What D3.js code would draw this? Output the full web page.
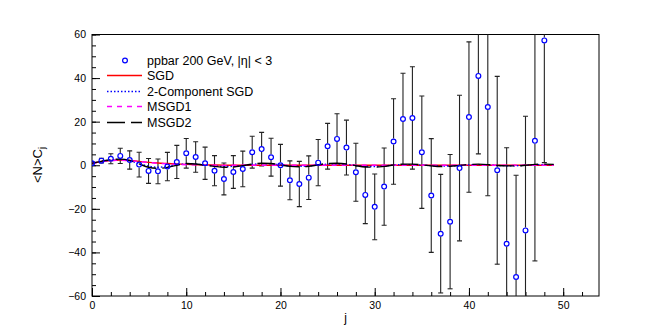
<!DOCTYPE html>
<html>
<head>
<meta charset="utf-8">
<script src="https://cdn.jsdelivr.net/npm/d3@7"></script>
<style>
  body { margin: 0; background: #fff; }
  text { font-family: "Liberation Sans", Arial, sans-serif; }
</style>
</head>
<body>
<div id="chart"></div>
<script>
// ******************************** DATA ***************************************
// j bins of the measured points
var jBins = d3.range(0, 49);

// <N>C_j measured values (ppbar 200 GeV, |eta| < 3)
var ncValues = [0.9, 2.1, 3.0, 4.3, 2.4, 0.3, -2.6, -2.8, -0.6, 1.5,
  5.5, 3.8, 0.9, -2.5, -6.3, -3.1, -1.7, 6.0, 7.4, 3.7,
  0.0, -6.9, -8.6, -5.7, 1.2, 8.7, 12.1, 8.1, -3.2, -13.6,
  -19.1, -9.8, 10.9, 21.2, 21.7, 6.0, -13.9, -31.4, -25.9, -1.3,
  22.1, 41.0, 26.7, -2.3, -36.0, -51.3, -29.9, 11.2, 57.3];

// symmetric errors on the points
var ncErrors = [0.8, 1.1, 2.3, 3.5, 4.2, 5.7, 5.7, 5.7, 6.5, 7.6,
  6.8, 7.0, 7.4, 6.9, 7.3, 7.5, 8.2, 7.3, 7.7, 8.7,
  9.6, 8.9, 10.4, 10.0, 10.6, 10.5, 11.5, 12.6, 13.3, 13.2,
  15.1, 17.7, 19.6, 21.0, 23.5, 25.8, 26.1, 27.2, 30.8, 33.4,
  34.5, 35.8, 40.7, 43.1, 44.0, 46.7, 52.4, 55.1, 56.1];

// model curves, evaluated at j = 0..49
var modelJ = d3.range(0, 50);
var sgd = [0.9, 1.7, 2.2, 2.4, 2.2, 1.8, 1.3, 1.0, 0.8, 0.6,
  0.4, 0.25, 0.15, 0.1, 0.05, 0, 0, 0, 0, 0,
  0, 0, 0, 0, 0, 0, 0, 0, 0, 0,
  0, 0, 0, 0, 0, 0, 0, 0, 0, 0,
  0, 0, 0, 0, 0, 0, 0, 0, 0, 0];
var twoCompSgd = [0.9, 1.7, 2.4, 2.6, 2.0, 0.8, -0.4, -0.9, -0.6, 0.1,
  0.6, 0.5, 0.1, -0.3, -0.6, -0.5, -0.1, 0.4, 0.7, 0.6,
  0.2, -0.3, -0.5, -0.3, 0.1, 0.5, 0.6, 0.4, -0.1, -0.5,
  -0.6, -0.3, 0.1, 0.3, 0.3, 0.1, -0.2, -0.4, -0.3, -0.1,
  0.2, 0.3, 0.2, -0.1, -0.2, -0.2, 0.0, 0.2, 0.3, 0.2];
var msgd1 = [0.9, 1.6, 2.1, 2.3, 2.1, 1.7, 1.3, 0.9, 0.6, 0.4,
  0.25, 0.15, 0.05, 0, -0.05, 0, 0, 0, 0, 0,
  0, 0, 0, 0, 0, 0, 0, 0, 0, 0,
  0, 0, 0, 0, 0, 0, 0, 0, 0, 0,
  0, 0, 0, 0, 0, 0, 0, 0, 0, 0];
var msgd2 = [0.9, 1.8, 2.6, 2.8, 2.2, 0.6, -0.9, -1.4, -1.0, 0.0,
  0.8, 0.6, 0.0, -0.5, -0.9, -0.8, -0.2, 0.5, 0.9, 0.8,
  0.2, -0.5, -0.7, -0.5, 0.2, 0.8, 0.9, 0.6, -0.2, -0.8,
  -0.9, -0.5, 0.1, 0.5, 0.5, 0.2, -0.3, -0.6, -0.5, -0.1,
  0.3, 0.5, 0.3, -0.1, -0.3, -0.3, 0.0, 0.4, 0.5, 0.4];

// axis ticks
var xMajorTicks = [0, 10, 20, 30, 40, 50];
var xMinorTicks = d3.range(0, 54, 2);
var yMajorTicks = [-60, -40, -20, 0, 20, 40, 60];
var yMinorTicks = d3.range(-60, 61, 5);

var legendLabels = ["ppbar 200 GeV, |\u03b7| < 3", "SGD", "2-Component SGD", "MSGD1", "MSGD2"];

// ***************************** CANVAS SET UP *********************************
var svgWidth = 664,
    svgHeight = 330;

var frame = {left: 92, right: 599, top: 34.5, bottom: 296};

var svg = d3.select("#chart")
  .append("svg")
    .attr("width", svgWidth)
    .attr("height", svgHeight);

// ******************************** SCALES *************************************
var x = d3.scaleLinear().domain([0, 53.8]).range([frame.left, frame.right]);
var y = d3.scaleLinear().domain([-60, 60]).range([frame.bottom, frame.top]);

svg.append("clipPath").attr("id", "clip")
  .append("rect")
    .attr("x", frame.left).attr("y", frame.top)
    .attr("width", frame.right - frame.left)
    .attr("height", frame.bottom - frame.top);

// ********************************* AXES **************************************
// bottom axis: ticks point up into the frame
var xAxisMajor = d3.axisBottom(x).tickValues(xMajorTicks).tickSize(-8).tickFormat(d3.format("d"));
var xAxisMinor = d3.axisBottom(x).tickValues(xMinorTicks).tickSize(-4).tickFormat("");
var yAxisMajor = d3.axisLeft(y).tickValues(yMajorTicks).tickSize(-8)
  .tickFormat(d => d < 0 ? "\u2212" + Math.abs(d) : d);
var yAxisMinor = d3.axisLeft(y).tickValues(yMinorTicks).tickSize(-4).tickFormat("");

function styleAxis(g) {
  g.select(".domain").remove();
  g.selectAll("line").attr("stroke", "#000").attr("stroke-width", 1);
  g.selectAll("text").attr("font-size", "10.5px").attr("fill", "#000")
    .attr("font-family", "Liberation Sans, Arial, sans-serif");
}

svg.append("g").attr("transform", `translate(0, ${frame.bottom})`).call(xAxisMinor).call(styleAxis);
svg.append("g").attr("transform", `translate(0, ${frame.bottom})`).call(xAxisMajor).call(styleAxis)
  .selectAll("text").attr("y", 6).attr("dy", "0.71em");
svg.append("g").attr("transform", `translate(${frame.left}, 0)`).call(yAxisMinor).call(styleAxis);
svg.append("g").attr("transform", `translate(${frame.left}, 0)`).call(yAxisMajor).call(styleAxis)
  .selectAll("text").attr("x", -6);

// frame box
svg.append("rect")
  .attr("x", frame.left).attr("y", frame.top)
  .attr("width", frame.right - frame.left)
  .attr("height", frame.bottom - frame.top)
  .attr("fill", "none").attr("stroke", "#000").attr("stroke-width", 1);

// axis titles
svg.append("text")
  .attr("x", (frame.left + frame.right) / 2).attr("y", 322)
  .attr("text-anchor", "middle").attr("font-size", "12px")
  .text("j");

var yTitle = svg.append("text")
  .attr("transform", "translate(42, 165) rotate(-90)")
  .attr("text-anchor", "middle").attr("font-size", "13px");
yTitle.append("tspan").text("<N>C");
yTitle.append("tspan").attr("font-size", "9px").attr("dy", 3).text("j");

// ****************************** DATA POINTS **********************************
var plot = svg.append("g").attr("clip-path", "url(#clip)");
var markerR = 2.4, capW = 2.5;

var points = jBins.map((j, i) => ({j: j, v: ncValues[i], e: ncErrors[i]}));

var bars = plot.selectAll(".err").data(points).enter().append("g")
  .attr("stroke", "#222").attr("stroke-width", 1.1);

// upper and lower halves of the error bar, leaving a gap around the marker
bars.append("line")
  .attr("x1", d => x(d.j)).attr("x2", d => x(d.j))
  .attr("y1", d => y(d.v + d.e)).attr("y2", d => Math.max(y(d.v) - markerR - 0.5, y(d.v + d.e)));
bars.append("line")
  .attr("x1", d => x(d.j)).attr("x2", d => x(d.j))
  .attr("y1", d => Math.min(y(d.v) + markerR + 0.5, y(d.v - d.e))).attr("y2", d => y(d.v - d.e));
bars.filter(d => d.v + d.e < 60).append("line")
  .attr("x1", d => x(d.j) - capW).attr("x2", d => x(d.j) + capW)
  .attr("y1", d => y(d.v + d.e)).attr("y2", d => y(d.v + d.e));
bars.filter(d => d.v - d.e > -60).append("line")
  .attr("x1", d => x(d.j) - capW).attr("x2", d => x(d.j) + capW)
  .attr("y1", d => y(d.v - d.e)).attr("y2", d => y(d.v - d.e));

// ******************************* MODELS **************************************
var models = [
  {values: sgd, color: "#ff0000", dash: null},
  {values: twoCompSgd, color: "#0000ff", dash: "1.5,2"},
  {values: msgd1, color: "#ff00ff", dash: "5,5"},
  {values: msgd2, color: "#000000", dash: "18,6"}
];

var line = d3.line()
  .x(d => x(d[0]))
  .y(d => y(d[1]))
  .curve(d3.curveMonotoneX);

models.forEach(function(m) {
  plot.append("path")
    .datum(modelJ.map((j, i) => [j, m.values[i]]))
    .attr("d", line)
    .attr("fill", "none")
    .attr("stroke", m.color)
    .attr("stroke-width", 1.4)
    .attr("stroke-dasharray", m.dash);
});

// markers on top
plot.selectAll(".pt").data(points).enter().append("circle")
  .attr("cx", d => x(d.j)).attr("cy", d => y(d.v))
  .attr("r", markerR)
  .attr("fill", "none").attr("stroke", "#0000ff").attr("stroke-width", 1.2);

// ******************************** LEGEND *************************************
var legend = svg.append("g");
var legendY = [60.5, 75.5, 91.5, 106.5, 122.5];

legend.append("circle")
  .attr("cx", 125).attr("cy", legendY[0]).attr("r", markerR)
  .attr("fill", "none").attr("stroke", "#0000ff").attr("stroke-width", 1.2);

models.forEach(function(m, i) {
  legend.append("line")
    .attr("x1", 107).attr("x2", 142)
    .attr("y1", legendY[i + 1]).attr("y2", legendY[i + 1])
    .attr("stroke", m.color).attr("stroke-width", 1.6)
    .attr("stroke-dasharray", m.dash);
});

legend.selectAll(".lab").data(legendLabels).enter().append("text")
  .attr("x", 147).attr("y", (d, i) => legendY[i])
  .attr("dy", "0.36em").attr("font-size", "12.5px")
  .text(d => d);
</script>
</body>
</html>
